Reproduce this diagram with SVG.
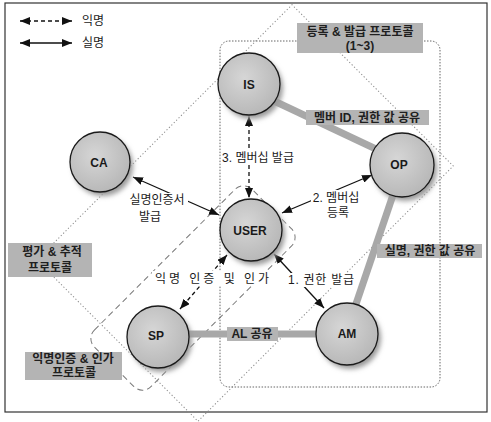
<svg xmlns="http://www.w3.org/2000/svg" width="491" height="422" viewBox="0 0 491 422">
<style>
.kr{font-family:"Liberation Sans","Noto Sans CJK KR",sans-serif;fill:#1a1a1a}
.lbl{font-size:12px;text-anchor:middle}
.box{fill:#b4b4b4}
.boxt{font-size:12px;font-weight:bold;text-anchor:middle;fill:#202020}
.node{fill:url(#ng);stroke:#1a1a1a;stroke-width:1.3}
.shadow{fill:#9a9a9a;filter:url(#blur)}
.nt{font-family:"Liberation Sans",Arial,sans-serif;font-size:12px;font-weight:bold;text-anchor:middle;fill:#1a1a1a}
.band{stroke:#a8a8a8;stroke-width:7;fill:none;stroke-linecap:butt}
.arr{stroke:#111;stroke-width:1.3;fill:none;marker-start:url(#ah);marker-end:url(#ah)}
.dash{stroke-dasharray:4 3}
.bg{fill:#fff}
</style>
<defs>
<radialGradient id="ng" cx="0.42" cy="0.4" r="0.65">
<stop offset="0" stop-color="#d6d6d6"/>
<stop offset="1" stop-color="#b6b6b6"/>
</radialGradient>
<filter id="blur" x="-30%" y="-30%" width="160%" height="160%"><feGaussianBlur stdDeviation="2.5"/></filter>
<marker id="ah" viewBox="0 0 10 8" refX="10" refY="4" markerWidth="10" markerHeight="8" markerUnits="userSpaceOnUse" orient="auto-start-reverse"><path d="M0,0 L10,4 L0,8 z" fill="#111"/></marker>
</defs>
<rect width="491" height="422" fill="#fff"/>
<rect id="frame" x="5" y="3" width="482" height="409" fill="none" stroke="#333" stroke-width="1.2"/>

<g id="regions">
<rect id="region-eval" x="-180.5" y="-114" width="361" height="228" transform="translate(245,213) rotate(-45)" fill="none" stroke="#8a8a8a" stroke-width="1" stroke-dasharray="1.2 2.2"/>
<rect id="region-anon" x="-111.5" y="-40" width="223" height="80" rx="12" transform="translate(193,288) rotate(-45)" fill="none" stroke="#7a7a7a" stroke-width="1" stroke-dasharray="6 4"/>
<rect id="region-reg" x="220" y="41" width="220" height="346" rx="9" fill="none" stroke="#666" stroke-width="1" stroke-dasharray="1.5 1.5"/>
</g>

<g id="legend">
<line class="arr dash" x1="20" y1="21" x2="72" y2="21"/>
<text class="kr" x="82" y="25" font-size="12">익명</text>
<line class="arr" x1="20" y1="43" x2="72" y2="43"/>
<text class="kr" x="82" y="47" font-size="12">실명</text>
</g>

<g id="connectors">
<line class="band" x1="272" y1="100" x2="378" y2="150"/>
<line class="band" x1="393" y1="195" x2="356" y2="304"/>
<line class="band" x1="189" y1="334" x2="316" y2="334"/>
<line class="arr" x1="133" y1="177" x2="219" y2="215"/>
<line class="arr" x1="372" y1="175" x2="282" y2="213"/>
<line class="arr" x1="274" y1="254" x2="324" y2="308"/>
<line class="arr dash" x1="249" y1="116" x2="249" y2="198"/>
<line class="arr dash" x1="227" y1="255" x2="180" y2="309"/>
</g>

<g id="node-IS"><circle class="shadow" cx="252" cy="88" r="31"/><circle class="node" cx="249" cy="84" r="31"/><text class="nt" x="249" y="89">IS</text></g>
<g id="node-OP"><circle class="shadow" cx="405" cy="169" r="32"/><circle class="node" cx="402" cy="165" r="32"/><text class="nt" x="399" y="169">OP</text></g>
<g id="node-CA"><circle class="shadow" cx="103" cy="166" r="30"/><circle class="node" cx="100" cy="162" r="30"/><text class="nt" x="99" y="167">CA</text></g>
<g id="node-USER"><circle class="shadow" cx="254" cy="234" r="31"/><circle class="node" cx="251" cy="230" r="31"/><text class="nt" x="250" y="235">USER</text></g>
<g id="node-SP"><circle class="shadow" cx="161" cy="341" r="31"/><circle class="node" cx="158" cy="337" r="31"/><text class="nt" x="156" y="340">SP</text></g>
<g id="node-AM"><circle class="shadow" cx="350" cy="338" r="31"/><circle class="node" cx="347" cy="334" r="31"/><text class="nt" x="347" y="338">AM</text></g>

<g id="labels">
<rect class="bg" x="227" y="151" width="63" height="14"/>
<text class="kr lbl" x="258" y="162">3. 멤버십 발급</text>
<rect class="bg" x="311" y="190" width="50" height="29"/>
<text class="kr lbl" x="336" y="202">2. 멤버십</text>
<text class="kr lbl" x="338" y="217">등록</text>
<rect class="bg" x="126" y="193" width="62" height="30"/>
<text class="kr lbl" x="157" y="204">실명인증서</text>
<text class="kr lbl" x="150" y="221">발급</text>
<rect class="bg" x="286" y="273" width="70" height="14"/>
<text class="kr lbl" x="321" y="284" textLength="66" lengthAdjust="spacing">1. 권한 발급</text>
<rect class="bg" x="152" y="271" width="120" height="15"/>
<text class="kr lbl" x="212" y="283" font-size="13.5" textLength="114" lengthAdjust="spacing">익명 인증 및 인가</text>

<rect class="box" x="297" y="23" width="126" height="30"/>
<text class="kr boxt" x="360" y="36">등록 &amp; 발급 프로토콜</text>
<text class="kr boxt" x="360" y="50">(1~3)</text>
<rect class="box" x="306" y="110" width="123" height="15"/>
<text class="kr boxt" x="367" y="122">멤버 ID, 권한 값 공유</text>
<rect class="box" x="377" y="244" width="105" height="14"/>
<text class="kr boxt" x="430" y="255">실명, 권한 값 공유</text>
<rect class="box" x="227" y="327" width="51" height="14"/>
<text class="kr boxt" x="252" y="338">AL 공유</text>
<rect class="box" x="8" y="243" width="84" height="34"/>
<text class="kr boxt" x="52" y="256">평가 &amp; 추적</text>
<text class="kr boxt" x="50" y="272">프로토콜</text>
<rect class="box" x="25" y="352" width="97" height="28"/>
<text class="kr boxt" x="73" y="363" font-size="11">익명인증 &amp; 인가</text>
<text class="kr boxt" x="74" y="377" font-size="11">프로토콜</text>
</g>
</svg>
